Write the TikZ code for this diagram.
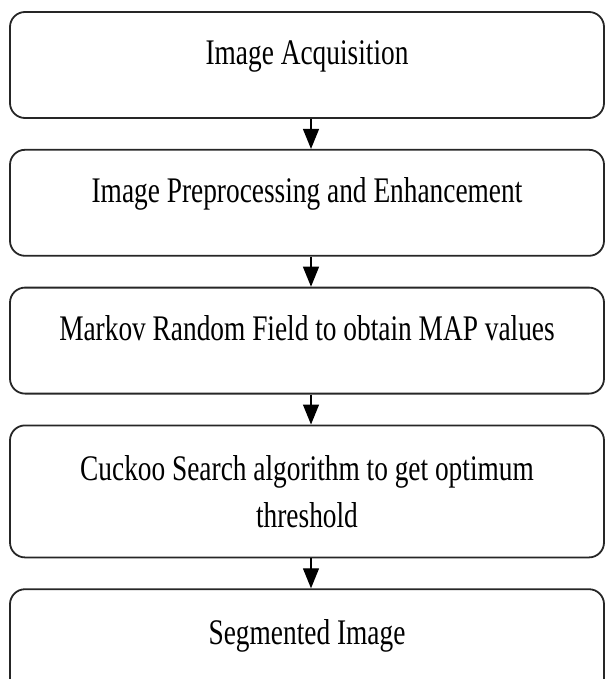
\documentclass[tikz,border=0pt]{standalone}
\usepackage{fontspec}
\setmainfont{Liberation Serif}[FakeStretch=0.76]
\usetikzlibrary{positioning,arrows.meta}
\begin{document}
\begin{tikzpicture}[
        x=1pt, y=1pt,
        node distance=30pt,
        box/.style={draw=black!85, line width=1.8pt, rounded corners=15pt,
            minimum width=594pt, minimum height=106pt, inner sep=0pt,
            text height=25pt, text depth=25pt, align=center,
            font=\fontsize{36}{47}\selectfont},
        arr/.style={line width=1.3pt, -{Triangle[width=16pt,length=20pt]}}
        ]
        \useasboundingbox (0,0) rectangle (606,-679);
        \clip (0,0) rectangle (606,-679);
        \node [box] (b1) at (307,-65) {Image Acquisition};
        \node [box, below=of b1] (b2) {Image Preprocessing and Enhancement};
        \node [box, below=of b2] (b3) {Markov Random Field to obtain MAP values};
        \node [box, below=of b3, minimum height=132pt, text height=80pt, text depth=8pt] (b4)
            {Cuckoo Search algorithm to get optimum\\threshold};
        \node [box, below=of b4, minimum height=111pt] (b5) {Segmented Image};
        \foreach \a/\b in {b1/b2,b2/b3,b3/b4,b4/b5}
            \draw [arr] ([xshift=4pt]\a.south) -- ([xshift=4pt]\b.north);
    \end{tikzpicture}
\end{document}
